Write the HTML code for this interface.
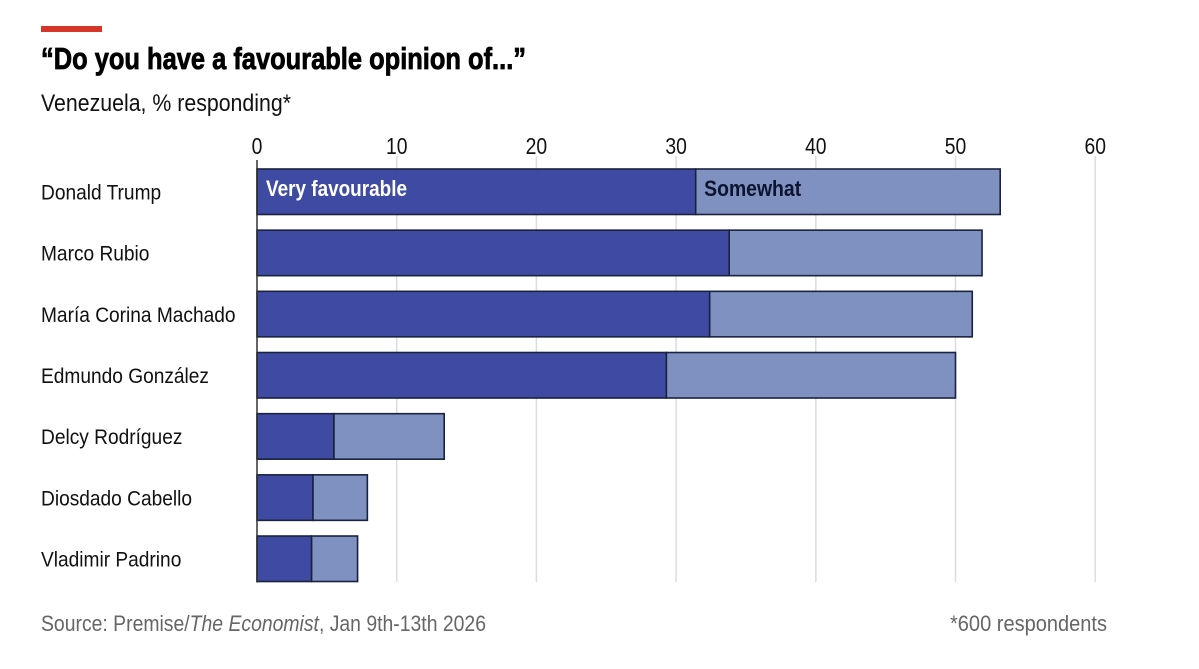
<!DOCTYPE html>
<html lang="en">
<head>
<meta charset="utf-8">
<title>Do you have a favourable opinion of...</title>
<style>
html,body{margin:0;padding:0;background:#fff;width:1199px;height:669px;overflow:hidden}
svg{display:block;font-family:"Liberation Sans",sans-serif}
</style>
</head>
<body>
<svg id="chart" width="1199" height="669" viewBox="0 0 1199 669" xmlns="http://www.w3.org/2000/svg">
<rect x="0" y="0" width="1199" height="669" fill="#fff"/>
<rect x="41" y="26" width="61" height="6" fill="#d8352a"/>
<text x="41" y="69" font-size="31" font-weight="700" fill="#000" stroke="#000" stroke-width="0.8" textLength="485" lengthAdjust="spacingAndGlyphs">“Do you have a favourable opinion of...”</text>
<text x="41" y="111" font-size="24" fill="#111" textLength="250" lengthAdjust="spacingAndGlyphs">Venezuela, % responding*</text>
<g id="grid"></g>
<g id="ticks"></g>
<g id="bars"></g>
<g id="labels"></g>
<line id="axis" stroke="#333" stroke-width="1.5"/>
<text id="very-label" y="196" font-size="22" font-weight="700" fill="#fff" textLength="141" lengthAdjust="spacingAndGlyphs">Very favourable</text>
<text id="somewhat-label" y="196" font-size="22" font-weight="700" fill="#0d1430" textLength="97" lengthAdjust="spacingAndGlyphs">Somewhat</text>
<text x="41" y="631" font-size="22" fill="#666" textLength="445" lengthAdjust="spacingAndGlyphs">Source: Premise/<tspan font-style="italic">The Economist</tspan>, Jan 9th-13th 2026</text>
<text x="950" y="631" font-size="22" fill="#666" textLength="157" lengthAdjust="spacingAndGlyphs">*600 respondents</text>
</svg>
<script>
const categories = ["Donald Trump","Marco Rubio","María Corina Machado","Edmundo González","Delcy Rodríguez","Diosdado Cabello","Vladimir Padrino"];
const veryFavourable = [31.4,33.8,32.4,29.3,5.5,4.0,3.9];
const somewhat = [21.8,18.1,18.8,20.7,7.9,3.9,3.3];
const tickValues = [0,10,20,30,40,50,60];

const NS = "http://www.w3.org/2000/svg";
const plot = {x0:257, pxPerUnit:13.97, top:169, rowStep:61.17, barH:45.5, gridTop:156, gridBottom:582};
const xScale = v => plot.x0 + v * plot.pxPerUnit;
const yScale = i => plot.top + i * plot.rowStep;
const labelStretch = 0.89;

function make(tag, attrs){
  const el = document.createElementNS(NS, tag);
  for (const k in attrs) el.setAttribute(k, attrs[k]);
  return el;
}

const grid = document.getElementById("grid");
const ticks = document.getElementById("ticks");
tickValues.forEach(t => {
  if (t !== 0) {
    const line = make("line", {x1:xScale(t), x2:xScale(t), y1:plot.gridTop, y2:plot.gridBottom, stroke:"#dcdcde", "stroke-width":1.5});
    
    
    grid.appendChild(line);
  }
  const g = make("g", {transform:"translate(" + xScale(t) + ",154) scale(0.84,1)"});
  
  
  const label = make("text", {x:0, y:0, "font-size":23, "text-anchor":"middle", fill:"#111"});
  
  
  label.textContent = String(t);
  g.appendChild(label);
  ticks.appendChild(g);
});

const bars = document.getElementById("bars");
const labels = document.getElementById("labels");
categories.forEach((name, i) => {
  const y = yScale(i);
  const total = veryFavourable[i] + somewhat[i];
  const light = make("rect", {x:xScale(veryFavourable[i]), y:y, width:xScale(total) - xScale(veryFavourable[i]), height:plot.barH, fill:"#7e91c0", stroke:"#1a2240", "stroke-width":1.6});
  
  
  bars.appendChild(light);
  const dark = make("rect", {x:xScale(0), y:y, width:xScale(veryFavourable[i]) - xScale(0), height:plot.barH, fill:"#3f4ba3", stroke:"#1a2240", "stroke-width":1.6});
  
  
  bars.appendChild(dark);

  const g = make("g", {transform:"translate(41," + (y + 30.5) + ") scale(" + labelStretch + ",1)"});
  
  
  const t = make("text", {x:0, y:0, "font-size":21.5, fill:"#111"});
  
  
  t.textContent = name;
  g.appendChild(t);
  labels.appendChild(g);
});

const axis = document.getElementById("axis");
axis.setAttribute("x1", xScale(0));
axis.setAttribute("x2", xScale(0));
axis.setAttribute("y1", plot.gridTop + 4);
axis.setAttribute("y2", plot.gridBottom + 0.5);
document.getElementById("very-label").setAttribute("x", xScale(0) + 9);
document.getElementById("somewhat-label").setAttribute("x", xScale(veryFavourable[0]) + 8.5);
</script>
</body>
</html>
